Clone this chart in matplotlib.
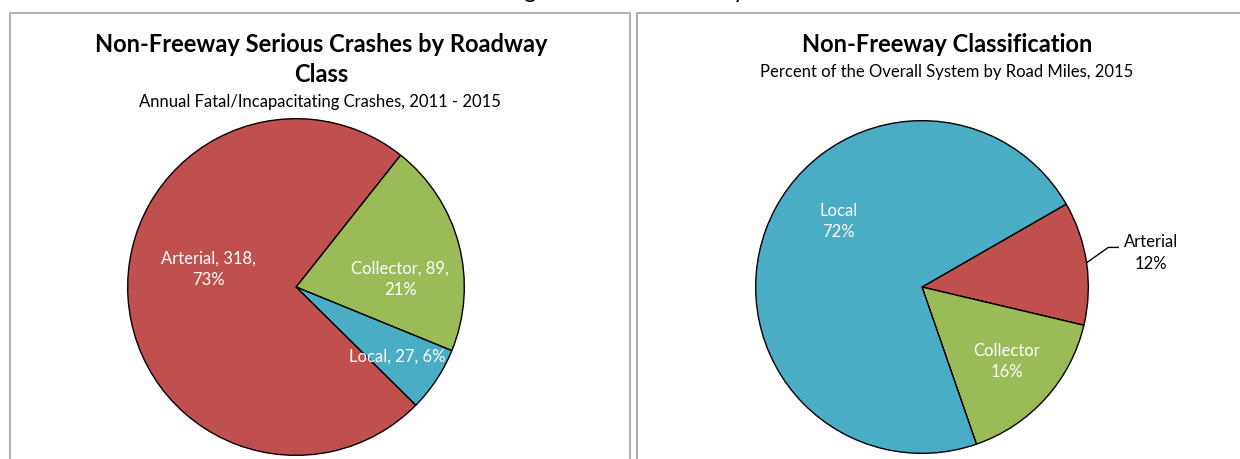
import matplotlib.pyplot as plt
from matplotlib.patches import Rectangle

plt.rcParams['font.family'] = ['Lato', 'DejaVu Sans']

# left pie: serious crashes by roadway class
crash_labels = ['Collector', 'Local', 'Arterial']
crash_counts = [89, 27, 318]
crash_pcts = [21, 6, 73]

# right pie: share of road miles
miles_labels = ['Arterial', 'Collector', 'Local']
miles_pcts = [12, 16, 72]

red, green, blue = '#C0504D', '#9BBB59', '#4BACC6'
crash_colors = [green, blue, red]
miles_colors = [red, green, blue]

W, H = 1240, 460
fig = plt.figure(figsize=(12.4, 4.6), dpi=100)


def px_axes(cx, cy, r):
    # axes box in pixel coords (y from top) around a pie of radius r
    return fig.add_axes([(cx - r) / W, (H - cy - r) / H, 2 * r / W, 2 * r / H])


# panel frames
for x0, x1 in [(10, 630), (637, 1250)]:
    fig.patches.append(Rectangle((x0 / W, -0.1), (x1 - x0) / W, 1.1 - 14 / H,
                                 transform=fig.transFigure, fill=False,
                                 ec='#A0A0A0', lw=1.2))

# cut-off figure caption at the very top (only descenders show)
fig.text(625 / W, 1 + 2 / H, 'Figure 3: Non-Freeway', ha='center', va='baseline',
         fontsize=17, color='black')

# titles
fig.text(321 / W, 1 - 45 / H, 'Non-Freeway Serious Crashes by Roadway', ha='center',
         va='center', fontsize=17, fontweight='bold')
fig.text(321 / W, 1 - 75 / H, 'Class', ha='center', va='center', fontsize=17,
         fontweight='bold')
fig.text(320 / W, 1 - 102 / H, 'Annual Fatal/Incapacitating Crashes, 2011 - 2015',
         ha='center', va='center', fontsize=12)
fig.text(947 / W, 1 - 45 / H, 'Non-Freeway Classification', ha='center', va='center',
         fontsize=17, fontweight='bold')
fig.text(947 / W, 1 - 72 / H, 'Percent of the Overall System by Road Miles, 2015',
         ha='center', va='center', fontsize=12)

wedge_style = dict(edgecolor='black', linewidth=1.0)

# left pie
ax1 = px_axes(296, 288, 170)
ax1.pie(crash_counts, colors=crash_colors, startangle=51.6, counterclock=False,
        wedgeprops=wedge_style, radius=1)
ax1.set_xlim(-1.01, 1.01)
ax1.set_ylim(-1.01, 1.01)
ax1.set_aspect('equal')
ax1.axis('off')

crash_text = {
    'Arterial': ('{}, {},\n{}%', (-0.52, 0.11)),
    'Collector': ('{}, {},\n{}%', (0.62, 0.05)),
    'Local': ('{}, {}, {}%', (0.60, -0.41)),
}
for name, n, p in zip(crash_labels, crash_counts, crash_pcts):
    fmt, (tx, ty) = crash_text[name]
    ax1.text(tx, ty, fmt.format(name, n, p), color='white', ha='center',
             va='center', fontsize=12, linespacing=1.4)

# right pie
ax2 = px_axes(922, 288, 168)
ax2.pie(miles_pcts, colors=miles_colors, startangle=29.9, counterclock=False,
        wedgeprops=wedge_style, radius=1)
ax2.set_xlim(-1.01, 1.01)
ax2.set_ylim(-1.01, 1.01)
ax2.set_aspect('equal')
ax2.axis('off')

miles_text = {
    'Local': ((-0.50, 0.40), 'white'),
    'Collector': ((0.51, -0.44), 'white'),
    'Arterial': ((1.375, 0.21), 'black'),
}
for name, p in zip(miles_labels, miles_pcts):
    (tx, ty), c = miles_text[name]
    ax2.text(tx, ty, '{}\n{}%'.format(name, p), color=c, ha='center', va='center',
             fontsize=12, linespacing=1.4, clip_on=False)

# leader line for the outside label
ax2.plot([0.994, 1.12, 1.18], [0.149, 0.238, 0.238], color='black', lw=1,
         clip_on=False)

fig.savefig('out.png', dpi=100)
